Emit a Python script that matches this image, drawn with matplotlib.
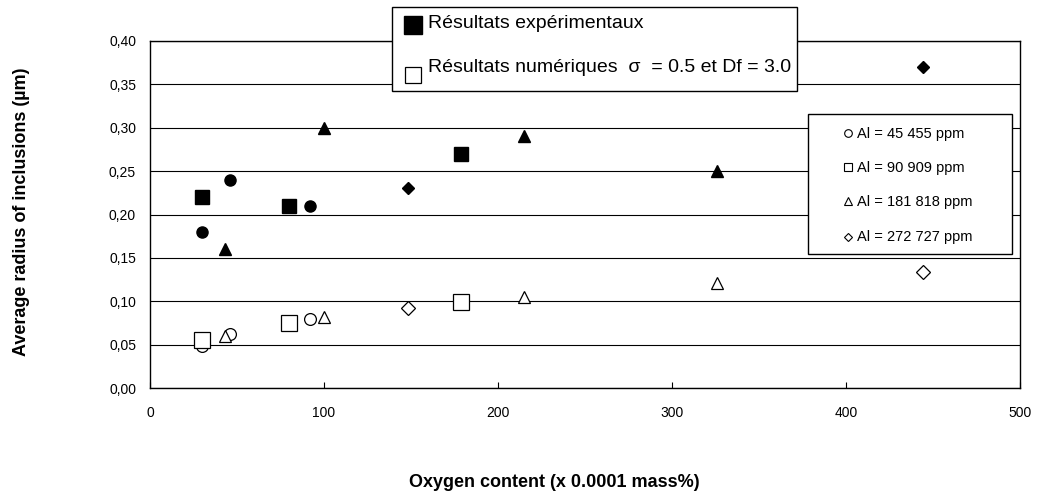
import matplotlib
matplotlib.use("Agg")
import matplotlib.pyplot as plt
from matplotlib.lines import Line2D
from matplotlib.patches import Rectangle
from matplotlib.ticker import FuncFormatter

plt.rcParams['font.family'] = ['Liberation Sans', 'DejaVu Sans']

# Experimental (filled) and numerical (open) results, per Al content
al_labels = ["Al = 45 455 ppm", "Al = 90 909 ppm", "Al = 181 818 ppm", "Al = 272 727 ppm"]
markers = ["o", "s", "^", "D"]
top_labels = ["Résultats expérimentaux", "Résultats numériques  σ  = 0.5 et Df = 3.0"]

exp_x_circle = [30, 46, 92]
exp_y_circle = [0.18, 0.24, 0.21]
exp_x_square = [30, 80, 179]
exp_y_square = [0.22, 0.21, 0.27]
exp_x_triangle = [43, 100, 215, 326]
exp_y_triangle = [0.16, 0.30, 0.29, 0.25]
exp_x_diamond = [148, 444]
exp_y_diamond = [0.23, 0.37]

num_x_circle = [30, 46, 92]
num_y_circle = [0.048, 0.062, 0.079]
num_x_square = [30, 80, 179]
num_y_square = [0.055, 0.075, 0.099]
num_x_triangle = [43, 100, 215, 326]
num_y_triangle = [0.060, 0.082, 0.105, 0.121]
num_x_diamond = [148, 444]
num_y_diamond = [0.092, 0.134]

x_ticks = [0, 100, 200, 300, 400, 500]
y_ticks = [0.00, 0.05, 0.10, 0.15, 0.20, 0.25, 0.30, 0.35, 0.40]

W, H = 1040, 495
def fx(x):
    return x / W
def fy(y):
    return 1 - y / H

fig = plt.figure(figsize=(10.4, 4.95), dpi=100)
ax = fig.add_axes([fx(150), fy(388), 870 / W, 347 / H])

sizes = {"o": 8, "s": 9.5, "^": 8, "D": 6.2}
exp_sets = [(exp_x_circle, exp_y_circle), (exp_x_square, exp_y_square),
            (exp_x_triangle, exp_y_triangle), (exp_x_diamond, exp_y_diamond)]
num_sets = [(num_x_circle, num_y_circle), (num_x_square, num_y_square),
            (num_x_triangle, num_y_triangle), (num_x_diamond, num_y_diamond)]

for m, (xs, ys) in zip(markers, exp_sets):
    ax.plot(xs, ys, linestyle="none", marker=m, ms=sizes[m], mfc="black",
            mec="black", zorder=3, clip_on=False)
for m, (xs, ys) in zip(markers, num_sets):
    ms = sizes[m] + (1.5 if m == "s" else 0.5)
    ax.plot(xs, ys, linestyle="none", marker=m, ms=ms, mfc="white",
            mec="black", mew=0.9, zorder=3, clip_on=False)

ax.set_xlim(0, 500)
ax.set_ylim(0, 0.40)
ax.set_xticks(x_ticks)
ax.set_yticks(y_ticks)
ax.yaxis.set_major_formatter(FuncFormatter(lambda v, p: f"{v:.2f}".replace(".", ",")))
ax.set_xticklabels([str(t) for t in x_ticks])
ax.tick_params(axis="x", direction="in", length=4, pad=13, labelsize=10, width=0.8)
ax.tick_params(axis="y", direction="out", length=0, pad=10, labelsize=10)
for s in ax.spines.values():
    s.set_linewidth(1.0)
    s.set_color("black")
ax.grid(axis="y", color="black", linewidth=0.8)
ax.set_axisbelow(True)

fig.text(fx(554), fy(487), "Oxygen content (x 0.0001 mass%)", fontsize=13,
         fontweight="bold", ha="center", va="baseline")
fig.text(fx(22), fy(212), "Average radius of inclusions (µm)", fontsize=13,
         fontweight="bold", ha="center", va="center", rotation=90)

# Top legend (drawn in figure pixels)
fig.add_artist(Rectangle((fx(392), fy(91)), (797 - 392) / W, (91 - 7) / H,
                         transform=fig.transFigure, facecolor="white",
                         edgecolor="black", linewidth=1.0, zorder=5))
fig.add_artist(Line2D([fx(413)], [fy(25)], transform=fig.transFigure, marker="s",
                      ms=12.5, mfc="black", mec="black", linestyle="none", zorder=6))
fig.add_artist(Line2D([fx(413)], [fy(75)], transform=fig.transFigure, marker="s",
                      ms=11.5, mfc="white", mec="black", mew=0.9, linestyle="none", zorder=6))
fig.text(fx(428), fy(28), top_labels[0], fontsize=14, ha="left", va="baseline", zorder=6)
fig.text(fx(428), fy(72), top_labels[1], fontsize=14, ha="left", va="baseline", zorder=6)

# Right legend (drawn in figure pixels)
fig.add_artist(Rectangle((fx(808), fy(254)), (1012 - 808) / W, (254 - 114) / H,
                         transform=fig.transFigure, facecolor="white",
                         edgecolor="black", linewidth=1.0, zorder=5))
row_y = [133, 167, 201, 236.5]
leg_ms = {"o": 5.5, "s": 5.5, "^": 6, "D": 4}
for m, lab, yy in zip(markers, al_labels, row_y):
    fig.add_artist(Line2D([fx(848)], [fy(yy)], transform=fig.transFigure, marker=m,
                          ms=leg_ms[m], mfc="white", mec="black", mew=0.8,
                          linestyle="none", zorder=6))
    fig.text(fx(857), fy(yy + 5), lab, fontsize=10.5, ha="left", va="baseline", zorder=6)

fig.savefig("out.png", dpi=100)
